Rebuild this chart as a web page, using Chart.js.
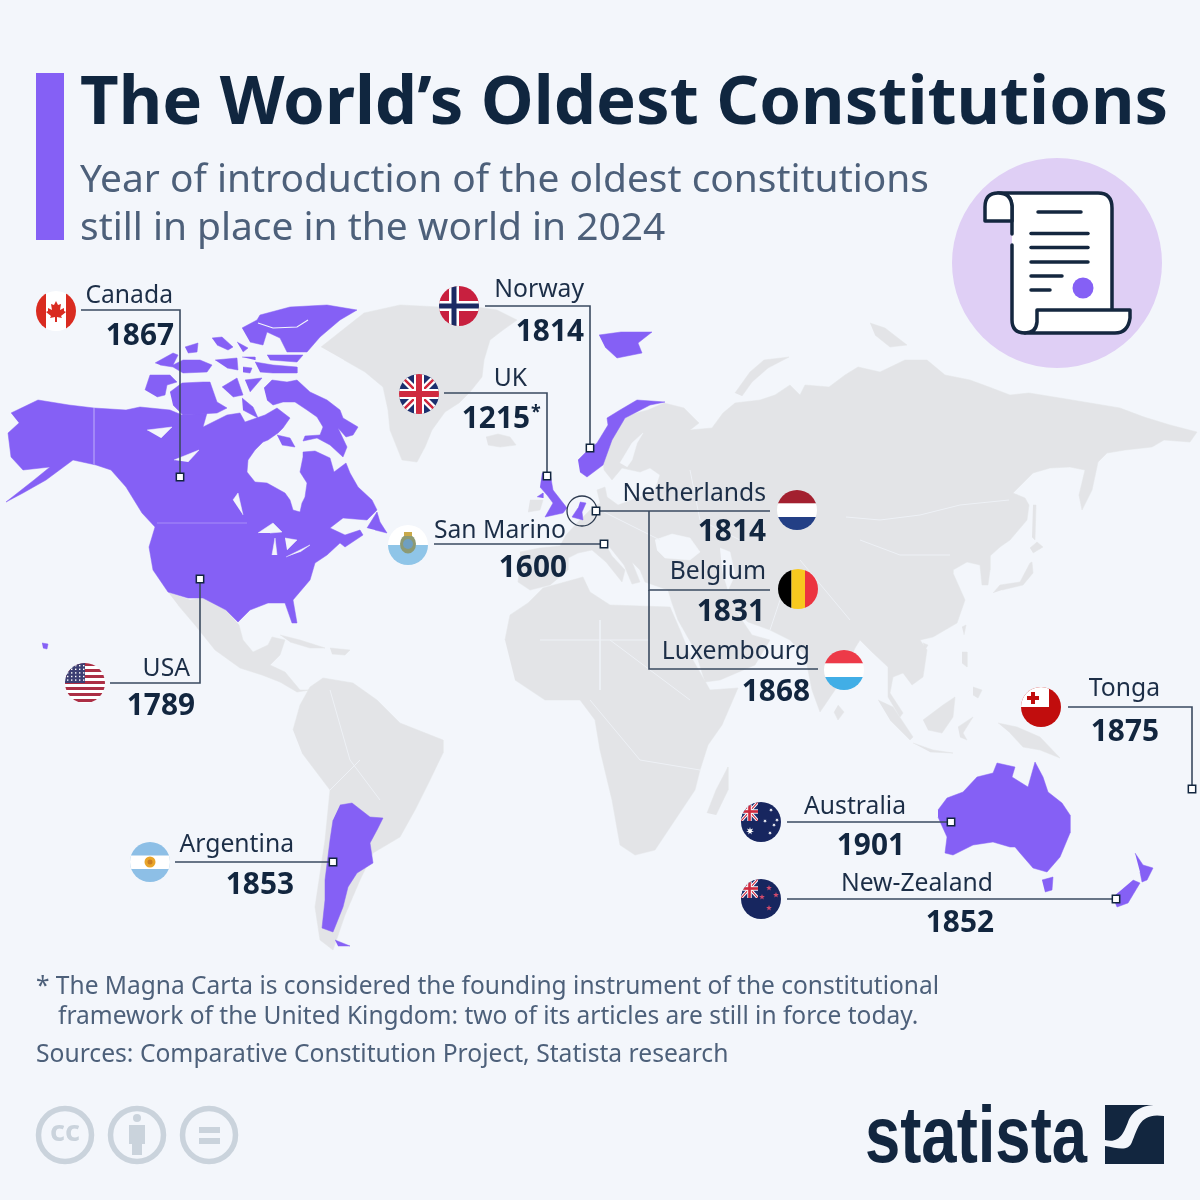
<!DOCTYPE html>
<html><head><meta charset="utf-8">
<script src="https://cdn.jsdelivr.net/npm/chart.js@4"></script>
<style>
html,body{margin:0;padding:0;background:#f3f6fb;width:1200px;height:1200px;overflow:hidden}
#wrap{position:relative;width:1200px;height:1200px}
canvas{position:absolute;left:0;top:0}
.t{position:absolute;white-space:nowrap;font-family:"Noto Sans",sans-serif}
#bar{position:absolute;left:36px;top:73px;width:28px;height:167px;background:#8560f5}
</style></head><body><div id="wrap">
<canvas id="c" width="1200" height="1200"></canvas>
<div id="bar"></div>
<div class="t" style="left:80px;top:52px;font-size:67px;font-weight:700;color:#10263f;line-height:92px">The World’s Oldest Constitutions</div>
<div class="t" style="left:80px;top:153px;font-size:38.9px;color:#4d607a;line-height:48px">Year of introduction of the oldest constitutions<br>still in place in the world in 2024</div>
<div class="t" style="left:36px;top:970px;font-size:24.5px;color:#4d607a;line-height:30px">* The Magna Carta is considered the founding instrument of the constitutional<br><span style="margin-left:22px">framework of the United Kingdom: two of its articles are still in force today.</span></div>
<div class="t" style="left:36px;top:1038px;font-size:24.65px;color:#4d607a;line-height:30px">Sources: Comparative Constitution Project, Statista research</div>
</div>
<script>
// ---- chart values ----
const countries=["Canada","Norway","UK","San Marino","Netherlands","Belgium","Luxembourg","Tonga","Australia","New-Zealand","USA","Argentina"];
const years=[1867,1814,1215,1600,1814,1831,1868,1875,1901,1852,1789,1853];
const yearNotes=["","","*","","","","","","","","",""];
// ---- map locations, in map units ----
const markerX=[180,590,547,604,596,null,null,1192,951,1116,200,333];
const markerY=[477,448,476,544,511,null,null,789,822,899,579,862];
const flagX=[56,459,419,408,797,798,844,1041,761,761,85,150];
const flagY=[311,306,394,545,510,589,670,707,822,899,683,862];
const nameRight=[173,584,527,566,766,766,810,1160,906,993,190,294];
const nameY=[296,290,379,531,494,572,652,689,807,884,669,845];
const yearRight=[174,584,530,567,766,765,810,1159,905,994,195,294];
const yearY=[337,333,420,569,533,613,693,733,847,924,707,886];
const leaderPaths=[
 [[81,310],[180,310],[180,477]],[[485,306],[590,306],[590,448]],[[444,393],[547,393],[547,476]],
 [[434,544],[604,544]],[[596,511],[770,511]],[[770,590],[649,590],[649,511]],[[818,669],[649,669],[649,590]],
 [[1068,707],[1192,707],[1192,789]],[[787,822],[951,822]],[[787,899],[1116,899]],[[110,683],[200,683],[200,579]],[[175,862],[333,862]]];
// grey land
const greenland=[[321,347],[345,328],[364,313],[400,305],[440,307],[470,306],[497,310],[517,320],[503,330],[490,340],[484,360],[482,377],[470,392],[459,403],[445,412],[432,430],[425,447],[417,462],[402,460],[396,445],[390,430],[388,410],[383,387],[365,372],[344,360]];
const iceland=[[486,437],[498,434],[510,437],[516,445],[500,447],[488,445]];
const irelandGrey=[[530,500],[543,500],[540,510],[528,512]];
const eurasia=[[520,552],[540,548],[560,546],[566,535],[578,522],[590,510],[600,503],[597,490],[605,487],[607,497],[618,505],[640,497],[655,490],[660,475],[650,468],[640,472],[622,468],[612,480],[604,470],[603,460],[615,428],[629,415],[648,410],[664,403],[684,408],[699,423],[690,430],[712,428],[723,413],[735,403],[760,400],[775,395],[790,385],[800,395],[805,385],[829,387],[845,375],[858,367],[880,372],[905,360],[927,360],[945,375],[970,380],[989,387],[1010,395],[1029,393],[1060,398],[1090,403],[1120,408],[1144,417],[1170,425],[1197,432],[1190,442],[1164,440],[1152,447],[1125,450],[1107,453],[1098,462],[1092,490],[1082,510],[1079,495],[1085,470],[1070,467],[1050,468],[1033,473],[1013,493],[1025,498],[1029,505],[1027,520],[1010,540],[1000,547],[990,556],[990,570],[988,585],[982,585],[980,565],[967,562],[953,570],[953,573],[965,600],[957,623],[933,637],[920,640],[927,650],[923,677],[912,685],[903,673],[893,677],[890,693],[903,713],[900,717],[888,697],[888,667],[873,653],[860,640],[855,648],[850,660],[835,690],[820,712],[812,690],[805,655],[790,640],[770,630],[748,622],[735,610],[752,635],[770,640],[755,665],[720,680],[705,682],[695,650],[678,620],[672,603],[668,590],[645,582],[640,570],[632,562],[640,582],[632,584],[624,565],[608,545],[602,538],[612,556],[625,570],[622,582],[606,562],[592,550],[578,553],[568,558],[568,570],[550,585],[530,590],[518,582],[520,565]];
const africa=[[505,640],[510,615],[528,603],[543,588],[565,582],[583,577],[590,592],[610,605],[640,606],[670,607],[680,630],[690,655],[710,690],[738,688],[722,725],[708,745],[700,770],[695,790],[675,820],[655,850],[635,855],[620,845],[612,800],[600,750],[595,720],[580,700],[545,700],[515,680]];
const madagascar=[[707,813],[716,790],[728,767],[728,790],[716,815]];
const southAmerica=[[293,730],[300,705],[310,687],[323,678],[353,683],[377,700],[400,723],[443,740],[443,753],[430,780],[415,810],[400,837],[373,853],[360,880],[345,915],[333,950],[320,940],[315,907],[325,840],[330,790],[302,753]];
const centralAmerica=[[168,592],[190,600],[203,598],[226,610],[239,625],[243,640],[253,652],[268,645],[272,637],[285,640],[280,655],[270,665],[285,672],[300,690],[310,690],[297,692],[280,682],[262,675],[240,668],[215,650],[195,625],[178,605]];
const cuba=[[280,635],[300,640],[325,648],[310,648],[290,642]];
const hispaniola=[[330,648],[350,650],[345,655],[332,654]];
const japan=[[993,593],[1000,585],[1020,582],[1030,563],[1032,562],[1033,573],[1023,585],[1002,590]];
const hokkaido=[[1030,548],[1037,542],[1043,547],[1033,553]];
const sakhalin=[[1033,505],[1036,505],[1035,540],[1032,537]];
const sumatra=[[878,700],[893,707],[913,737],[910,740],[890,720]];
const java=[[913,743],[933,750],[953,753],[930,752]];
const borneo=[[923,720],[943,705],[955,697],[953,717],[942,733],[928,730]];
const sulawesi=[[958,727],[973,717],[963,733],[967,740],[960,737]];
const luzon=[[962,652],[967,652],[967,667],[962,663]];
const mindanao=[[973,687],[982,690],[978,698],[973,695]];
const taiwan=[[962,627],[966,625],[964,635]];
const hainan=[[923,643],[928,645],[925,650]];
const newGuinea=[[998,723],[1017,727],[1040,737],[1060,758],[1040,750],[1023,747],[1010,733]];
const novayaZemlya=[[735,393],[750,372],[764,360],[789,357],[768,368],[752,382],[742,396]];
const severnaya=[[870,323],[885,328],[907,345],[890,347],[875,335]];
const sriLanka=[[838,705],[844,712],[838,720],[834,712]];
// water on the grey land
const blackSea=[[655,540],[672,534],[690,538],[700,552],[690,560],[665,558],[657,550]];
const caspian=[[720,548],[730,552],[735,575],[728,590],[722,570]];
const bothnia=[[620,463],[632,443],[643,433],[637,443],[632,460],[627,467]];
const baltic=[[612,497],[630,488],[640,480],[645,490],[625,498]];
// purple land
const northAmerica=[[11,413],[38,400],[69,405],[94,408],[126,410],[140,407],[170,410],[182,415],[207,413],[203,427],[227,415],[240,413],[245,422],[265,415],[277,408],[290,418],[283,428],[278,433],[268,440],[263,442],[255,450],[248,460],[247,472],[255,482],[267,483],[285,493],[290,500],[293,510],[300,512],[302,503],[305,497],[307,483],[300,472],[303,457],[303,452],[315,451],[330,458],[334,472],[346,463],[350,473],[358,487],[372,500],[377,510],[367,520],[343,518],[330,528],[345,535],[360,530],[363,535],[345,547],[340,543],[327,555],[315,563],[310,580],[293,600],[297,623],[292,623],[285,603],[268,603],[250,610],[238,622],[226,610],[203,598],[188,598],[168,592],[153,570],[149,547],[155,527],[142,513],[126,487],[111,470],[96,465],[73,460],[46,480],[23,493],[6,502],[34,480],[50,467],[23,470],[11,457],[8,433],[19,423]];
const newfoundland=[[367,528],[377,512],[380,522],[387,533],[375,530]];
const ellesmere=[[242,328],[257,320],[260,315],[290,307],[327,305],[357,310],[340,320],[320,337],[307,352],[287,352],[280,338],[267,332],[263,345],[250,342]];
const devon=[[255,362],[273,365],[297,367],[297,373],[273,373],[260,372]];
const cornwallis=[[267,355],[303,355],[297,362],[270,360]];
const bathurst=[[212,338],[222,337],[233,347],[228,350],[217,345]];
const cameron=[[237,342],[248,348],[243,352]];
const melville=[[155,363],[173,353],[178,355],[173,365],[183,360],[200,360],[212,365],[207,372],[183,373],[173,367],[160,365]];
const patrick=[[185,347],[198,343],[197,352],[188,353]];
const byam=[[215,360],[237,358],[238,370],[227,368]];
const russell=[[243,367],[252,368],[250,373],[243,372]];
const lougheed=[[242,357],[255,357],[255,360]];
const banks=[[145,390],[150,375],[170,375],[177,382],[167,385],[165,395],[157,397]];
const victoria=[[170,392],[182,383],[203,382],[210,382],[217,402],[227,408],[217,413],[183,415],[173,405]];
const princeWales=[[222,387],[237,378],[243,395],[233,397]];
const somerset=[[245,380],[262,378],[250,392]];
const boothia=[[242,398],[253,407],[258,418],[243,410]];
const baffin=[[264,388],[272,380],[287,382],[297,380],[310,392],[327,400],[340,410],[343,418],[358,427],[353,435],[346,437],[338,428],[347,447],[343,457],[330,445],[317,438],[303,441],[305,436],[320,435],[323,427],[317,417],[307,410],[295,402],[283,402],[273,405],[267,400]];
const southampton=[[277,435],[290,438],[295,447],[282,445]];
const hawaii=[[42,643],[48,644],[47,649],[43,648]];
const greatBritain=[[542,473],[550,473],[553,490],[567,508],[563,513],[545,517],[553,503],[547,495],[540,487]];
const northIreland=[[537,497],[543,493],[543,498]];
const norway=[[578,460],[588,450],[597,443],[608,425],[607,418],[620,410],[637,400],[665,402],[650,405],[625,418],[612,440],[603,465],[587,477],[580,472]];
const svalbard=[[599,335],[621,332],[652,332],[638,343],[642,353],[617,358],[605,347]];
const benelux=[[580,502],[586,503],[582,512],[583,520],[572,517],[578,508]];
const australia=[[938,810],[947,798],[963,792],[977,777],[993,773],[997,763],[1015,767],[1012,777],[1028,787],[1035,762],[1043,777],[1048,792],[1062,803],[1070,815],[1070,833],[1060,857],[1047,872],[1033,868],[1020,853],[1015,847],[1010,847],[993,842],[973,845],[953,855],[945,853],[947,837],[938,817]];
const tasmania=[[1042,880],[1053,877],[1052,890],[1045,892]];
const nzNorth=[[1135,853],[1143,865],[1153,868],[1147,880],[1142,882],[1140,872]];
const nzSouth=[[1133,880],[1140,883],[1128,903],[1117,907],[1113,897]];
const argentina=[[340,805],[352,803],[370,817],[383,818],[377,830],[370,843],[373,863],[357,873],[348,887],[343,907],[333,932],[322,928],[325,900],[325,880],[330,840],[333,820]];
const tierra=[[335,940],[350,946],[338,946]];
const greatBear=[[147,430],[172,427],[161,438]];
const greatSlave=[[174,460],[199,450],[188,462]];
const winnipeg=[[233,500],[238,493],[243,515]];
const superior=[[258,533],[273,523],[282,532],[270,533]];
const michigan=[[272,555],[275,538],[277,555]];
const huron=[[285,538],[297,540],[287,550]];
const erie=[[286,557],[310,545],[300,552]];
// borders
const borderLines=[
 [[846,517],[880,520],[920,515],[960,505],[1009,500]],[[860,540],[900,555],[950,555]],[[690,470],[700,520],[740,540]],
 [[600,620],[600,690]],[[540,640],[650,640]],[[610,640],[690,700]],[[590,700],[640,760]],[[640,760],[700,770]],
 [[330,690],[350,760],[380,800]],[[330,790],[360,760]],[[800,560],[850,620]],[[780,600],[770,630]],[[600,510],[660,540]]];
const fjords=[[[258,323],[273,328],[297,327],[308,320]],[[268,343],[280,350]]];
const GREY="#e3e4e7",WATER="#f3f6fb",PURPLE="#8560f5",DARK="#3a4a60";

function circFlag(draw){const c=document.createElement('canvas');c.width=42;c.height=42;const g=c.getContext('2d');
 g.beginPath();g.arc(21,21,20,0,7);g.clip();g.translate(1,1);draw(g);return c;}
function R(g,col,x,y,w,h){g.fillStyle=col;g.fillRect(x,y,w,h);}
function star(g,x,y,r,col,n){n=n||5;g.fillStyle=col;g.beginPath();for(let i=0;i<n*2;i++){const a=-Math.PI/2+i*Math.PI/n,q=i%2?r*0.42:r;g.lineTo(x+q*Math.cos(a),y+q*Math.sin(a));}g.closePath();g.fill();}
function union(g,w,h,lw){R(g,"#1c2f6e",0,0,w,h);g.strokeStyle="#fff";g.lineWidth=lw*1.4;g.beginPath();g.moveTo(0,0);g.lineTo(w,h);g.moveTo(w,0);g.lineTo(0,h);g.stroke();
 g.strokeStyle="#cf2a3f";g.lineWidth=lw*.5;g.beginPath();g.moveTo(0,0);g.lineTo(w,h);g.moveTo(w,0);g.lineTo(0,h);g.stroke();
 R(g,"#fff",w/2-lw,0,lw*2,h);R(g,"#fff",0,h/2-lw,w,lw*2);R(g,"#cf2a3f",w/2-lw*.6,0,lw*1.2,h);R(g,"#cf2a3f",0,h/2-lw*.6,w,lw*1.2);}
const flags=[
 circFlag(g=>{R(g,"#fff",0,0,40,40);R(g,"#d92b20",0,0,10,40);R(g,"#d92b20",30,0,10,40);g.fillStyle="#d92b20";g.beginPath();[[20,10],[22,14],[25,13],[24,19],[28,17],[28,20],[30,21],[25,25],[26,27],[21,26],[21,31],[19,31],[19,26],[14,27],[15,25],[10,21],[12,20],[12,17],[16,19],[15,13],[18,14]].forEach(p=>g.lineTo(p[0],p[1]));g.fill();}),
 circFlag(g=>{R(g,"#c8203f",0,0,40,40);R(g,"#fff",10,0,10,40);R(g,"#fff",0,15,40,10);R(g,"#1b2a63",12.5,0,5,40);R(g,"#1b2a63",0,17.5,40,5);}),
 circFlag(g=>union(g,40,40,5)),
 circFlag(g=>{R(g,"#fff",0,0,40,20);R(g,"#8fc5e8",0,20,40,20);g.fillStyle="#8c9a74";g.beginPath();g.ellipse(20,19,8,9.5,0,0,7);g.fill();g.fillStyle="#6f9fc0";g.beginPath();g.arc(20,19,5,0,7);g.fill();g.fillStyle="#c9a94a";g.fillRect(16,7,8,4);}),
 circFlag(g=>{R(g,"#a3202f",0,0,40,13.5);R(g,"#fff",0,13.5,40,13.5);R(g,"#233f85",0,27,40,13);}),
 circFlag(g=>{R(g,"#000",0,0,13.5,40);R(g,"#f8c91f",13.5,0,13.5,40);R(g,"#ec3440",27,0,13,40);}),
 circFlag(g=>{R(g,"#ed3a48",0,0,40,13.5);R(g,"#fff",0,13.5,40,13.5);R(g,"#41aee6",0,27,40,13);}),
 circFlag(g=>{R(g,"#c10d0d",0,0,40,40);R(g,"#fff",0,0,28,20);R(g,"#c10d0d",6,9,12,4);R(g,"#c10d0d",10,5,4,12);}),
 circFlag(g=>{R(g,"#17265f",0,0,40,40);g.save();g.beginPath();g.rect(0,0,17,19);g.clip();union(g,17,19,2.2);g.restore();star(g,9,29,4,"#fff",7);[[30,8],[24,19],[36,18],[29,31],[33,23]].forEach(p=>star(g,p[0],p[1],2,"#fff",7));}),
 circFlag(g=>{R(g,"#17265f",0,0,40,40);g.save();g.beginPath();g.rect(0,0,17,19);g.clip();union(g,17,19,2.2);g.restore();[[28,9],[21,18],[35,16],[28,29]].forEach(p=>star(g,p[0],p[1],3,"#d04a6b"));}),
 circFlag(g=>{R(g,"#fff",0,0,40,40);for(let i=0;i<7;i++)R(g,"#ac2f45",0,i*6,40,3);R(g,"#3c3f73",0,0,20,20);g.fillStyle="#fff";for(let a=0;a<5;a++)for(let b=0;b<5;b++)g.fillRect(2+a*4,2+b*3.6,1.4,1.4);}),
 circFlag(g=>{R(g,"#8dbfe6",0,0,40,40);R(g,"#fff",0,13.5,40,13.5);g.fillStyle="#e9a52a";g.beginPath();g.arc(20,20,5.5,0,7);g.fill();g.fillStyle="#cc7d22";g.beginPath();g.arc(20,20,2.5,0,7);g.fill();})
];

const toPts=a=>a.map(p=>({x:p[0],y:p[1]}));
const area=(s,col)=>({type:'scatter',showLine:true,data:toPts(s),fill:'shape',backgroundColor:col,borderColor:col,borderWidth:.5,pointRadius:0,tension:0});
const line=(s,col,w)=>({type:'scatter',showLine:true,data:toPts(s),fill:false,borderColor:col,borderWidth:w,pointRadius:0,tension:0});

const layers=[];
[greenland,iceland,irelandGrey,eurasia,africa,madagascar,southAmerica,centralAmerica,cuba,hispaniola,japan,hokkaido,sakhalin,sumatra,java,borneo,sulawesi,luzon,mindanao,taiwan,hainan,newGuinea,novayaZemlya,severnaya,sriLanka].forEach(s=>layers.push(area(s,GREY)));
[blackSea,caspian,bothnia,baltic].forEach(s=>layers.push(area(s,WATER)));
borderLines.forEach(s=>layers.push(line(s,"#eef1f6",1)));
[northAmerica,newfoundland,ellesmere,devon,cornwallis,bathurst,cameron,melville,patrick,byam,russell,lougheed,banks,victoria,princeWales,somerset,boothia,baffin,southampton,hawaii,greatBritain,northIreland,norway,svalbard,benelux,australia,tasmania,nzNorth,nzSouth,argentina,tierra].forEach(s=>layers.push(area(s,PURPLE)));
[greatBear,greatSlave,winnipeg,superior,michigan,huron,erie].forEach(s=>layers.push(area(s,WATER)));
fjords.forEach(s=>layers.push(line(s,WATER,1.2)));
layers.push(line([[94,408],[94,465]],"#a78df8",1),line([[157,523],[247,523]],"#a78df8",1));
leaderPaths.forEach(s=>layers.push(line(s,DARK,1.6)));
layers.push({type:'scatter',data:[{x:582,y:511}],pointStyle:'circle',pointRadius:15,backgroundColor:'rgba(0,0,0,0)',borderColor:"#2c3a4f",borderWidth:1.3});
layers.push({type:'scatter',data:markerX.map((x,i)=>({x,y:markerY[i]})).filter(p=>p.x!==null),pointStyle:'rect',pointRadius:5.2,backgroundColor:"#fff",borderColor:"#12263f",borderWidth:1.5});
layers.push({type:'scatter',data:flagX.map((x,i)=>({x,y:flagY[i]})),pointStyle:flags,pointRadius:20});
layers.forEach((d,i)=>{d.order=layers.length-i;d.clip=false;});

const labelPlugin={id:'labels',afterDatasetsDraw(ch){
 const g=ch.ctx,X=ch.scales.x,Y=ch.scales.y;g.save();g.textBaseline='middle';g.textAlign='right';
 countries.forEach((n,i)=>{
  g.fillStyle="#1c2e47";g.font='24.7px "Noto Sans"';g.fillText(n,X.getPixelForValue(nameRight[i]),Y.getPixelForValue(nameY[i]));
  g.fillStyle="#12263f";g.font='bold 29.8px "Noto Sans"';g.fillText(String(years[i]),X.getPixelForValue(yearRight[i]),Y.getPixelForValue(yearY[i]));
  if(yearNotes[i]){g.textAlign='left';g.font='bold 18px "Noto Sans"';g.fillText(yearNotes[i],X.getPixelForValue(yearRight[i]+1),Y.getPixelForValue(yearY[i]-7));g.textAlign='right';}
 });
 g.restore();
}};
const decorPlugin={id:'decor',beforeDatasetsDraw(ch){
 const g=ch.ctx;g.save();
 g.fillStyle="#dfcff5";g.beginPath();g.arc(1057,263,105,0,7);g.fill();
 g.restore();
},afterDatasetsDraw(ch){
 const g=ch.ctx;g.save();
 g.strokeStyle="#14273f";g.lineWidth=3.5;g.lineJoin='round';g.lineCap='round';g.fillStyle="#fff";
 g.beginPath();g.moveTo(998,193);g.lineTo(1098,193);g.quadraticCurveTo(1112,193,1112,208);g.lineTo(1112,310);g.lineTo(1037,310);g.lineTo(1037,322);g.quadraticCurveTo(1036,333,1025,333);g.quadraticCurveTo(1012,333,1012,320);g.lineTo(1012,206);g.quadraticCurveTo(1011,193,998,193);g.closePath();g.fill();
 g.beginPath();g.moveTo(1012,234);g.lineTo(1012,206);g.quadraticCurveTo(1011,193,998,193);g.lineTo(1098,193);g.quadraticCurveTo(1112,193,1112,208);g.lineTo(1112,310);g.moveTo(1012,245);g.lineTo(1012,320);g.quadraticCurveTo(1012,333,1025,333);g.stroke();
 g.beginPath();g.moveTo(1012,221);g.lineTo(985,221);g.lineTo(985,207);g.quadraticCurveTo(985,193,998,193);g.quadraticCurveTo(1011,193,1012,206);g.lineTo(1012,221);g.fill();g.stroke();
 g.beginPath();g.moveTo(1037,310);g.lineTo(1130,310);g.lineTo(1130,318);g.quadraticCurveTo(1128,333,1115,333);g.lineTo(1025,333);g.quadraticCurveTo(1036,333,1037,322);g.closePath();g.fill();g.stroke();
 [[1038,1081,212],[1031,1088,233.5],[1031,1088,247.5],[1031,1088,262],[1031,1062,276],[1031,1050,290]].forEach(l=>{g.beginPath();g.moveTo(l[0],l[2]);g.lineTo(l[1],l[2]);g.stroke();});
 g.fillStyle=PURPLE;g.beginPath();g.arc(1083,288,10.5,0,7);g.fill();
 g.strokeStyle="#cad3dc";g.fillStyle="#cad3dc";g.lineWidth=5.5;g.lineCap='butt';
 [65,137,209].forEach(x=>{g.beginPath();g.arc(x,1135,26.5,0,7);g.stroke();});
 g.font='bold 29px "Noto Sans"';g.textAlign='center';g.textBaseline='middle';g.fillText('cc',65,1133);
 g.beginPath();g.arc(137,1118,4,0,7);g.fill();g.fillRect(129,1125,16,19);g.fillRect(132,1144,10,11);
 g.fillRect(199,1127,21,6);g.fillRect(199,1138,21,6);
 g.fillStyle="#12263f";g.textAlign='left';g.textBaseline='alphabetic';g.font='bold 80px "Liberation Sans"';
 const w=g.measureText('statista').width;g.save();g.translate(865,1162);g.scale(222/w,1);g.fillText('statista',0,0);g.restore();
 g.fillRect(1105,1105,59,59);
 g.fillStyle=WATER;g.beginPath();g.moveTo(1164,1116);g.bezierCurveTo(1140,1112,1138,1128,1132,1142);g.bezierCurveTo(1128,1152,1118,1148,1105,1146);g.lineTo(1105,1140);g.bezierCurveTo(1120,1144,1124,1132,1128,1122);g.bezierCurveTo(1134,1106,1150,1104,1164,1105);g.closePath();g.fill();
 g.restore();
}};
new Chart(document.getElementById('c'),{type:'scatter',data:{datasets:layers},plugins:[decorPlugin,labelPlugin],options:{
 responsive:false,animation:false,events:[],layout:{padding:0,autoPadding:false},
 scales:{x:{type:'linear',min:0,max:1200,display:false},y:{type:'linear',min:0,max:1200,reverse:true,display:false}},
 plugins:{legend:{display:false},tooltip:{enabled:false},title:{display:false}}
}});
</script></body></html>
